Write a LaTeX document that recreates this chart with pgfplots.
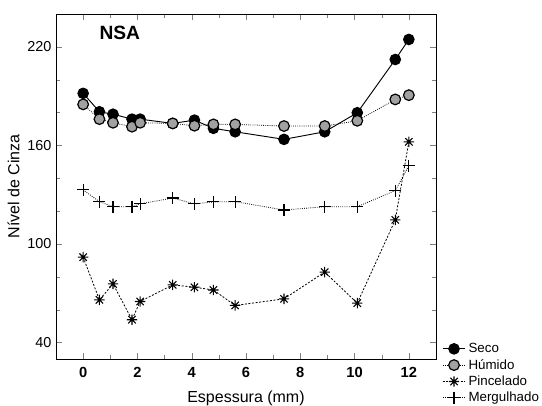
\documentclass[border=0pt]{standalone}
\usepackage{fontspec}
\setmainfont{Liberation Sans}
\usepackage{pgfplots}
\pgfplotsset{compat=1.18}

% asterisco de 8 bracos
\pgfdeclareplotmark{ast8}{%
  \pgfpathmoveto{\pgfqpoint{0pt}{\pgfplotmarksize}}\pgfpathlineto{\pgfqpoint{0pt}{-\pgfplotmarksize}}%
  \pgfpathmoveto{\pgfqpoint{\pgfplotmarksize}{0pt}}\pgfpathlineto{\pgfqpoint{-\pgfplotmarksize}{0pt}}%
  \pgfpathmoveto{\pgfqpoint{0.707\pgfplotmarksize}{0.707\pgfplotmarksize}}\pgfpathlineto{\pgfqpoint{-0.707\pgfplotmarksize}{-0.707\pgfplotmarksize}}%
  \pgfpathmoveto{\pgfqpoint{-0.707\pgfplotmarksize}{0.707\pgfplotmarksize}}\pgfpathlineto{\pgfqpoint{0.707\pgfplotmarksize}{-0.707\pgfplotmarksize}}%
  \pgfusepathqstroke}

\definecolor{cinza}{gray}{0.63}

\begin{document}
\begin{tikzpicture}
\begin{axis}[
  name=ax,
  scale only axis,
  width=285pt, height=258.75pt,
  xmin=-1, xmax=13, ymin=30, ymax=240,
  xtick={0,2,...,12}, ytick={40,100,160,220},
  minor x tick num=1, minor y tick num=2,
  tick align=inside,
  /pgf/number format/assume math mode=true,
  xticklabel style={font=\bfseries\fontsize{11}{13}\selectfont, yshift=-3pt},
  yticklabel style={font=\fontsize{10.8}{13}\selectfont},
  xlabel={Espessura (mm)}, ylabel={Nível de Cinza},
  label style={font=\fontsize{12}{14}\selectfont},
  xlabel style={yshift=-3pt},
  ylabel style={yshift=-1pt},
  axis line style={line width=0.6pt},
  legend style={at={(1.005,0.062)}, anchor=north west, draw=none, fill=none,
    font=\fontsize{10}{12}\selectfont, row sep=-0.5pt},
  legend cell align=left,
  clip=false,
]
\addplot[black, line width=0.7pt, mark=*, mark size=4pt, mark options={solid, fill=black}]
  coordinates {(0,191.7) (0.6,180.5) (1.1,179) (1.8,176) (2.1,176) (3.3,173.4) (4.1,175.4)
    (4.8,170.4) (5.6,168.3) (7.4,163.7) (8.9,168.3) (10.1,179.9) (11.5,212.3) (12.0,224.5)};
\addplot[black, densely dotted, line width=0.6pt, mark=*, mark size=4pt, mark options={solid, fill=cinza, line width=0.9pt}]
  coordinates {(0,185) (0.6,176) (1.1,173.8) (1.8,171.4) (2.1,173.8) (3.3,173.4) (4.1,172)
    (4.8,172.8) (5.6,172.8) (7.4,171.8) (8.9,171.8) (10.1,175) (11.5,188) (12.0,190.6)};
\addplot[black, dash pattern=on 1.5pt off 1.2pt, line width=0.6pt, mark=ast8, mark size=3.9pt, mark options={solid, line width=0.8pt}]
  coordinates {(0,92) (0.6,66) (1.1,75.7) (1.8,53.9) (2.1,65) (3.3,75.1) (4.1,73.7)
    (4.8,72) (5.6,62.6) (7.4,66.6) (8.9,82.9) (10.1,64) (11.5,114.7) (12.0,162.2)};
\addplot[black, densely dotted, line width=0.6pt, mark=+, mark size=4.5pt, mark options={solid, line width=0.8pt}]
  coordinates {(0,132.9) (0.6,125.8) (1.1,122.7) (1.8,122.7) (2.1,124.4) (3.3,128) (4.1,124.4)
    (4.8,125.6) (5.6,125.8) (7.4,120.7) (8.9,122.7) (10.1,122.7) (11.5,132.5) (12.0,147.7)};
\legend{Seco, Húmido, Pincelado, Mergulhado}
\node[font=\bfseries\fontsize{14.4}{17}\selectfont] at (axis cs:1.35,228.3) {NSA};
\end{axis}
\pgfresetboundingbox
\path ([xshift=-42pt,yshift=-35.25pt]ax.south west) rectangle ([xshift=79.5pt,yshift=10.5pt]ax.north east);
\end{tikzpicture}
\end{document}
